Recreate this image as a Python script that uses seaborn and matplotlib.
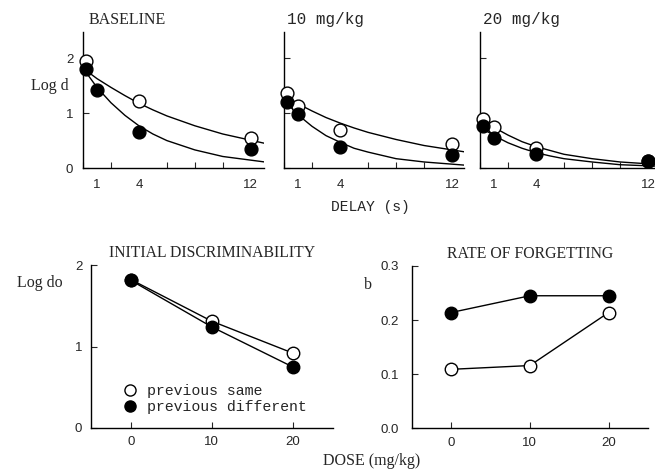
import numpy as np
import pandas as pd
import seaborn as sns
import matplotlib
matplotlib.use("Agg")
import matplotlib.pyplot as plt
from matplotlib.lines import Line2D

# ---------------- data ----------------
panel_titles = ["BASELINE", "10 mg/kg", "20 mg/kg"]
delays = [0.2, 1, 4, 12]

# observed log d (None = no point shown)
same_pts = [[1.95, None, 1.22, 0.54],
            [1.37, 1.13, 0.70, 0.44],
            [0.90, 0.75, 0.36, 0.13]]
diff_pts = [[1.81, 1.43, 0.66, 0.35],
            [1.20, 0.99, 0.39, 0.24],
            [0.76, 0.54, 0.25, 0.13]]

# fitted curves
curve_t = [0, 1, 2, 3, 4, 5, 6, 8, 10, 13]
same_curve = [[1.82, 1.63, 1.47, 1.32, 1.18, 1.06, 0.95, 0.77, 0.62, 0.45],
              [1.31, 1.17, 1.04, 0.92, 0.82, 0.73, 0.65, 0.52, 0.41, 0.29],
              [0.92, 0.74, 0.60, 0.48, 0.39, 0.32, 0.25, 0.17, 0.11, 0.06]]
diff_curve = [[1.82, 1.47, 1.19, 0.96, 0.77, 0.62, 0.50, 0.33, 0.21, 0.11],
              [1.24, 0.97, 0.76, 0.59, 0.47, 0.36, 0.29, 0.17, 0.11, 0.05],
              [0.75, 0.59, 0.46, 0.36, 0.28, 0.22, 0.17, 0.11, 0.06, 0.03]]

doses = [0, 10, 20]
logdo_same = [1.82, 1.31, 0.92]
logdo_diff = [1.81, 1.24, 0.75]
b_same = [0.109, 0.116, 0.214]
b_diff = [0.214, 0.245, 0.245]

# ---------------- style ----------------
sns.set_style("ticks")
SERIF = ["Liberation Serif", "DejaVu Serif"]
MONO = ["Liberation Mono", "DejaVu Sans Mono"]
SANS = ["Liberation Sans", "DejaVu Sans"]
plt.rcParams["font.family"] = SANS
plt.rcParams["axes.linewidth"] = 1.0

W, H = 655, 470
fig = plt.figure(figsize=(W / 100, H / 100), dpi=100)


def px_axes(x0, y0, x1, y1):
    return fig.add_axes([x0 / W, 1 - y1 / H, (x1 - x0) / W, (y1 - y0) / H])


def style_axes(ax):
    sns.despine(ax=ax)
    for s in ("left", "bottom"):
        ax.spines[s].set_color("black")
        ax.spines[s].set_linewidth(1.0)


top_boxes = [(83, 32, 264, 168), (284, 32, 464, 168), (480, 32, 655, 168)]
top_xmax = [12.95, 12.85, 12.5]
lw = 1.0
for i, (box, xm) in enumerate(zip(top_boxes, top_xmax)):
    ax = px_axes(*box)
    style_axes(ax)
    cs = pd.DataFrame({"t": curve_t, "y": same_curve[i]})
    cd = pd.DataFrame({"t": curve_t, "y": diff_curve[i]})
    sns.lineplot(data=cs, x="t", y="y", ax=ax, color="black", lw=lw, estimator=None, sort=False)
    sns.lineplot(data=cd, x="t", y="y", ax=ax, color="black", lw=lw, estimator=None, sort=False)
    ps = pd.DataFrame({"t": delays, "y": same_pts[i]}).dropna()
    pdf = pd.DataFrame({"t": delays, "y": diff_pts[i]}).dropna()
    sns.scatterplot(data=ps, x="t", y="y", ax=ax, s=85, color="white", edgecolor="black",
                    linewidth=1.0, zorder=3, clip_on=False)
    sns.scatterplot(data=pdf, x="t", y="y", ax=ax, s=85, color="black", edgecolor="black",
                    linewidth=1.0, zorder=4, clip_on=False)
    ax.set_xlim(0, xm)
    ax.set_ylim(0, 2.48)
    ax.set_xlabel("")
    ax.set_ylabel("")
    ax.set_xticks([1, 4, 12])
    ax.set_xticklabels(["1", "4", "12"])
    ax.set_xticks(np.arange(0, 13, 2), minor=True)
    ax.tick_params(axis="x", which="major", length=0, pad=8, labelsize=9.5)
    ax.tick_params(axis="x", which="minor", direction="in", length=4, width=0.8)
    ax.set_yticks([0, 1, 2])
    ax.tick_params(axis="y", direction="in", length=4, width=0.8, pad=7, labelsize=9.5)
    if i == 0:
        ax.set_yticklabels(["0", "1", "2"])
    else:
        ax.set_yticklabels([])
    title_font = SERIF if i == 0 else MONO
    fs = 11.5 if i == 0 else 11.5
    ax.set_title(panel_titles[i], loc="left", fontsize=fs, family=title_font,
                 x=(6 if i == 0 else 3) / (box[2] - box[0]), y=1.0, pad=6)

fig.text(50 / W, 1 - 86 / H, "Log d", family=SERIF, fontsize=11.5, ha="center", va="center")
fig.text(370 / W, 1 - 207 / H, "DELAY (s)", family=MONO, fontsize=10.5, ha="center", va="center")

# -------- bottom left --------
ax = px_axes(90.7, 265, 333, 428)
style_axes(ax)
dl = pd.DataFrame({"dose": doses * 2,
                   "v": logdo_same + logdo_diff,
                   "g": ["same"] * 3 + ["diff"] * 3})
sns.lineplot(data=dl[dl.g == "same"], x="dose", y="v", ax=ax, color="black", lw=lw,
             marker="o", markersize=9, markerfacecolor="white", markeredgecolor="black",
             markeredgewidth=1.0, estimator=None)
sns.lineplot(data=dl[dl.g == "diff"], x="dose", y="v", ax=ax, color="black", lw=lw,
             marker="o", markersize=9, markerfacecolor="black", markeredgecolor="black",
             markeredgewidth=1.0, estimator=None)
ax.set_xlim(-5, 25)
ax.set_ylim(0, 2)
ax.set_xticks(doses)
ax.set_yticks([0, 1, 2])
ax.tick_params(direction="in", length=4, width=0.8, pad=6, labelsize=9.5)
ax.set_xlabel("")
ax.set_ylabel("")
ax.set_title("INITIAL DISCRIMINABILITY", family=SERIF, fontsize=11.3, pad=6)
handles = [Line2D([], [], ls="", marker="o", markersize=8, markerfacecolor="white",
                  markeredgecolor="black", markeredgewidth=1.0),
           Line2D([], [], ls="", marker="o", markersize=8, markerfacecolor="black",
                  markeredgecolor="black")]
ax.legend(handles, ["previous same", "previous different"], frameon=False,
          loc="lower left", bbox_to_anchor=(0.13, 0.085), borderpad=0, borderaxespad=0,
          handlelength=1.0, handletextpad=0.7, labelspacing=0.15,
          prop={"family": MONO, "size": 10.7})
fig.text(40 / W, 1 - 283 / H, "Log do", family=SERIF, fontsize=11.5, ha="center", va="center")

# -------- bottom right --------
ax = px_axes(411.7, 266, 648, 428.3)
style_axes(ax)
db = pd.DataFrame({"dose": doses * 2,
                   "v": b_same + b_diff,
                   "g": ["same"] * 3 + ["diff"] * 3})
sns.lineplot(data=db[db.g == "same"], x="dose", y="v", ax=ax, color="black", lw=lw,
             marker="o", markersize=9, markerfacecolor="white", markeredgecolor="black",
             markeredgewidth=1.0, estimator=None)
sns.lineplot(data=db[db.g == "diff"], x="dose", y="v", ax=ax, color="black", lw=lw,
             marker="o", markersize=9, markerfacecolor="black", markeredgecolor="black",
             markeredgewidth=1.0, estimator=None)
ax.set_xlim(-5, 25)
ax.set_ylim(0, 0.3)
ax.set_xticks(doses)
ax.set_yticks([0.0, 0.1, 0.2, 0.3])
ax.set_yticklabels(["0.0", "0.1", "0.2", "0.3"])
ax.tick_params(direction="in", length=4, width=0.8, pad=6, labelsize=9.5)
ax.tick_params(axis="y", pad=9)
ax.set_xlabel("")
ax.set_ylabel("")
ax.set_title("RATE OF FORGETTING", family=SERIF, fontsize=11.3, pad=6)
fig.text(368 / W, 1 - 285 / H, "b", family=SERIF, fontsize=11.5, ha="center", va="center")

fig.text(372 / W, 1 - 461 / H, "DOSE (mg/kg)", family=SERIF, fontsize=11.5, ha="center", va="center")

fig.savefig("out.png", dpi=100)
